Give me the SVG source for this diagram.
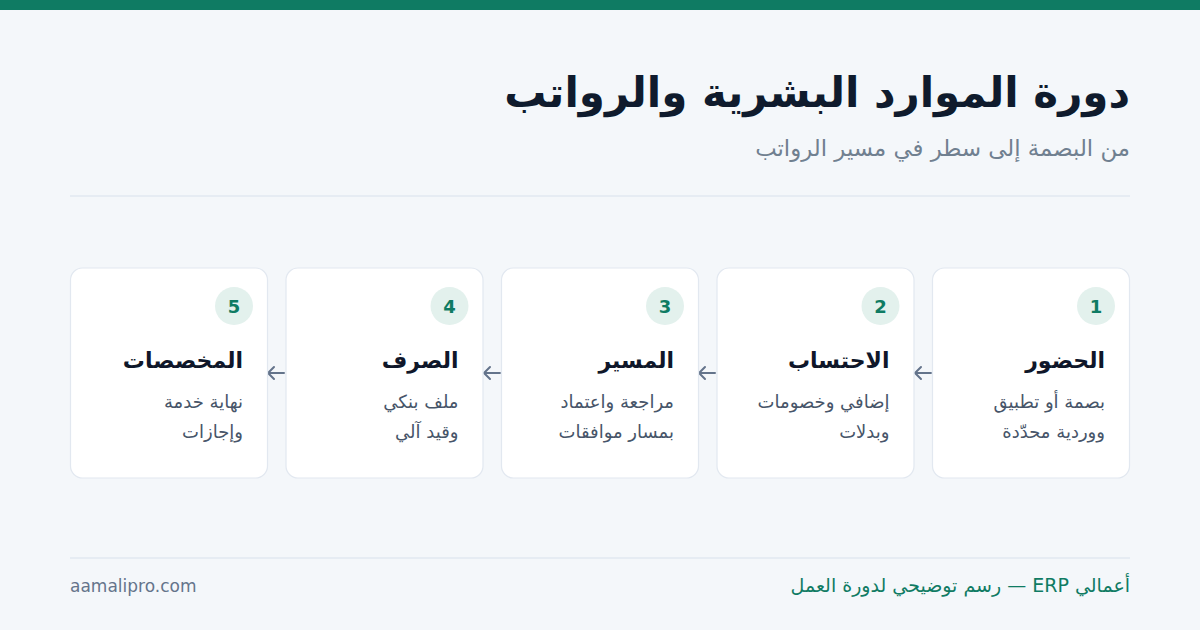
<svg xmlns="http://www.w3.org/2000/svg" width="1200" height="630" viewBox="0 0 1200 630">
<style>
.ar{font-family:"DejaVu Sans","Noto Sans",sans-serif;direction:rtl;text-anchor:start}
.h1{font-size:42px;font-weight:bold;fill:#0f1b2d}
.sub{font-size:22.8px;fill:#708090}
.card{fill:#ffffff;stroke:#e2e8f0;stroke-width:1.2}
.badge{fill:#e3f1ed}
.num{font-family:"DejaVu Sans",sans-serif;font-size:18px;font-weight:bold;fill:#0f7b63;text-anchor:middle}
.ttl{font-size:22px;font-weight:bold;fill:#0f172a}
.dsc{font-size:18px;fill:#475569}
.arr{fill:none;stroke:#64748b;stroke-width:2;stroke-linecap:round;stroke-linejoin:round}
.rule{stroke:#e2e8f0;stroke-width:1.5}
</style>
<rect width="1200" height="630" fill="#f4f7fa"/>
<rect width="1200" height="10" fill="#0f7b63"/>
<g id="header">
<text class="ar h1" x="1130" y="107">دورة الموارد البشرية والرواتب</text>
<text class="ar sub" x="1130" y="156">من البصمة إلى سطر في مسير الرواتب</text>
<line class="rule" x1="70" y1="196" x2="1130" y2="196"/>
</g>
<g id="connectors">
<path class="arr" d="M931 373 H915 M921 367 L915 373 L921 379"/>
<path class="arr" d="M715 373 H699 M705 367 L699 373 L705 379"/>
<path class="arr" d="M500 373 H484 M490 367 L484 373 L490 379"/>
<path class="arr" d="M284 373 H268 M274 367 L268 373 L274 379"/>
</g>
<g id="step1">
<rect class="card" x="932.5" y="268" width="197" height="210" rx="12"/>
<circle class="badge" cx="1096" cy="306" r="19"/>
<text class="num" x="1096" y="313">1</text>
<text class="ar ttl" x="1105" y="368">الحضور</text>
<text class="ar dsc" x="1105" y="408">بصمة أو تطبيق</text>
<text class="ar dsc" x="1105" y="438">ووردية محدّدة</text>
</g>
<g id="step2">
<rect class="card" x="717" y="268" width="197" height="210" rx="12"/>
<circle class="badge" cx="880.5" cy="306" r="19"/>
<text class="num" x="880.5" y="313">2</text>
<text class="ar ttl" x="889.5" y="368">الاحتساب</text>
<text class="ar dsc" x="889.5" y="408">إضافي وخصومات</text>
<text class="ar dsc" x="889.5" y="438">وبدلات</text>
</g>
<g id="step3">
<rect class="card" x="501.5" y="268" width="197" height="210" rx="12"/>
<circle class="badge" cx="665" cy="306" r="19"/>
<text class="num" x="665" y="313">3</text>
<text class="ar ttl" x="674" y="368">المسير</text>
<text class="ar dsc" x="674" y="408">مراجعة واعتماد</text>
<text class="ar dsc" x="674" y="438">بمسار موافقات</text>
</g>
<g id="step4">
<rect class="card" x="286" y="268" width="197" height="210" rx="12"/>
<circle class="badge" cx="449.5" cy="306" r="19"/>
<text class="num" x="449.5" y="313">4</text>
<text class="ar ttl" x="458.5" y="368">الصرف</text>
<text class="ar dsc" x="458.5" y="408">ملف بنكي</text>
<text class="ar dsc" x="458.5" y="438">وقيد آلي</text>
</g>
<g id="step5">
<rect class="card" x="70.5" y="268" width="197" height="210" rx="12"/>
<circle class="badge" cx="234" cy="306" r="19"/>
<text class="num" x="234" y="313">5</text>
<text class="ar ttl" x="243" y="368">المخصصات</text>
<text class="ar dsc" x="243" y="408">نهاية خدمة</text>
<text class="ar dsc" x="243" y="438">وإجازات</text>
</g>
<g id="footer">
<line class="rule" x1="70" y1="558" x2="1130" y2="558"/>
<text class="ar" x="1130" y="592" style="font-size:19px;fill:#0f7b63">أعمالي ERP — رسم توضيحي لدورة العمل</text>
<text x="70" y="592" style="font-family:'DejaVu Sans',sans-serif;font-size:17px;fill:#64748b">aamalipro.com</text>
</g>
</svg>
